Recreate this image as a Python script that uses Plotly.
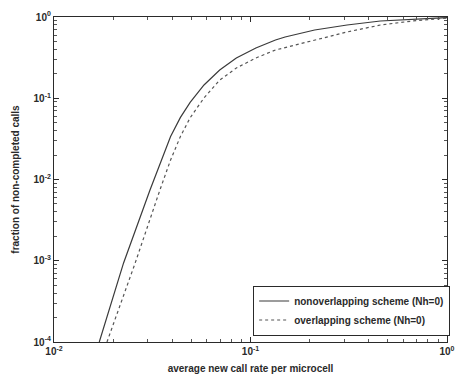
import plotly.graph_objects as go

# Data (log-log)
rate_solid = [0.0170, 0.0226, 0.0308, 0.0350, 0.0392, 0.0440, 0.0493, 0.0580, 0.0697, 0.0847,
              0.1065, 0.134, 0.150, 0.212, 0.310, 0.458, 0.668, 1.0]
frac_solid = [1.0e-4, 9.4e-4, 7.43e-3, 0.0170, 0.0339, 0.0582, 0.0891, 0.1456, 0.2228, 0.313,
              0.415, 0.521, 0.567, 0.692, 0.797, 0.893, 0.945, 0.985]

rate_dot = [0.0186, 0.0259, 0.0346, 0.0392, 0.0440, 0.0493, 0.0580, 0.0697, 0.0847, 0.1065,
            0.134, 0.150, 0.212, 0.310, 0.458, 0.668, 1.0]
frac_dot = [1.0e-4, 9.4e-4, 7.43e-3, 0.0174, 0.0339, 0.0575, 0.101, 0.1677, 0.2356, 0.313,
            0.3925, 0.42, 0.521, 0.654, 0.797, 0.893, 0.972]

names = ["nonoverlapping scheme (Nh=0)", "overlapping scheme (Nh=0)"]
x_title = "average new call rate per microcell"
y_title = "fraction of non-completed calls"
x_ticks = [0.01, 0.1, 1]
x_ticktext = ["10<sup>-2</sup>", "10<sup>-1</sup>", "10<sup>0</sup>"]
y_ticks = [1e-4, 1e-3, 1e-2, 1e-1, 1]
y_ticktext = ["10<sup>-4</sup>", "10<sup>-3</sup>", "10<sup>-2</sup>", "10<sup>-1</sup>", "10<sup>0</sup>"]

ink = "#2a2a2a"
fam = "Liberation Sans, Arial, sans-serif"

fig = go.Figure()
fig.add_trace(go.Scatter(x=rate_solid, y=frac_solid, mode="lines", name=names[0],
                         line=dict(color="#3a3a3a", width=1.2, shape="linear")))
fig.add_trace(go.Scatter(x=rate_dot, y=frac_dot, mode="lines", name=names[1],
                         line=dict(color="#555555", width=1.2, dash="dot", shape="linear")))

axis_common = dict(type="log", showline=True, linecolor=ink,
                   linewidth=1.2, mirror="ticks", ticks="inside", ticklen=5, tickcolor=ink,
                   showgrid=False, zeroline=False,
                   tickfont=dict(family=fam, size=10, color=ink, weight="bold"),
                   minor=dict(ticks="inside", ticklen=3, tickcolor="#555", dtick="D1", showgrid=False))

fig.update_xaxes(range=[-2, 0], tickmode="array", tickvals=x_ticks, ticktext=x_ticktext,
                 title=dict(text=x_title, font=dict(family=fam, size=10, color=ink, weight="bold"), standoff=8),
                 **axis_common)
fig.update_yaxes(range=[-4, 0], tickmode="array", tickvals=y_ticks, ticktext=y_ticktext,
                 title=dict(text=y_title, font=dict(family=fam, size=10, color=ink, weight="bold"), standoff=12),
                 **axis_common)

fig.update_layout(
    width=465, height=385,
    margin=dict(l=54, r=10, t=17, b=43),
    paper_bgcolor="white", plot_bgcolor="white",
    font=dict(family=fam, size=10, color=ink),
    showlegend=True,
    legend=dict(x=1.008, y=0.02, xanchor="right", yanchor="bottom",
                bgcolor="white", bordercolor=ink, borderwidth=1,
                font=dict(family=fam, size=10, color=ink, weight="bold"), itemwidth=30, tracegroupgap=0),
)

fig.write_html("out.html")
